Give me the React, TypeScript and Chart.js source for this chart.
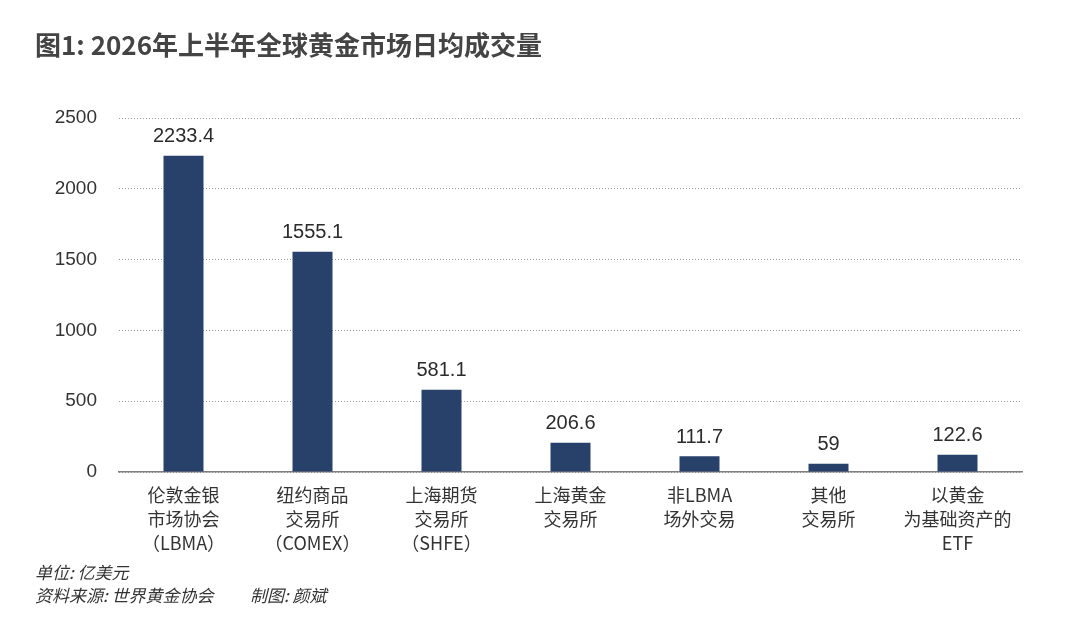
import { useRef, useEffect } from 'react'
import { Chart, registerables } from 'chart.js'
import type { Plugin } from 'chart.js'

Chart.register(...registerables)

const categories: string[][] = [
  ['伦敦金银', '市场协会', '（LBMA）'],
  ['纽约商品', '交易所', '（COMEX）'],
  ['上海期货', '交易所', '（SHFE）'],
  ['上海黄金', '交易所'],
  ['非LBMA', '场外交易'],
  ['其他', '交易所'],
  ['以黄金', '为基础资产的', 'ETF'],
]
const volumes = [2233.4, 1555.1, 581.1, 206.6, 111.7, 59, 122.6]
const yTicks = [0, 500, 1000, 1500, 2000, 2500]

const titleText = '图1: 2026年上半年全球黄金市场日均成交量'
const unitText = '单位: 亿美元'
const sourceText = '资料来源: 世界黄金协会'
const makerText = '制图: 颜斌'

const FONT = '"Noto Sans CJK SC", "Noto Sans", sans-serif'
const NUM_FONT = '"Liberation Sans", "Noto Sans CJK SC", sans-serif'

// value labels above bars + title and footer text
const labelsPlugin: Plugin<'bar'> = {
  id: 'valueLabels',
  afterDatasetsDraw(chart) {
    const ctx = chart.ctx
    const meta = chart.getDatasetMeta(0)
    ctx.save()
    ctx.fillStyle = '#2b2b2b'
    ctx.font = `20px ${NUM_FONT}`
    ctx.textAlign = 'center'
    ctx.textBaseline = 'bottom'
    meta.data.forEach((bar, i) => {
      ctx.fillText(String(volumes[i]), bar.x, bar.y - 9)
    })
    ctx.restore()
  },
  afterDraw(chart) {
    const ctx = chart.ctx
    ctx.save()
    ctx.textAlign = 'left'
    ctx.textBaseline = 'middle'
    ctx.fillStyle = '#444'
    ctx.font = `bold 26px ${FONT}`
    ctx.fillText(titleText, 35, 45)
    ctx.fillStyle = '#333'
    ctx.font = `italic 17px ${FONT}`
    ctx.fillText(unitText, 35, 573)
    ctx.fillText(sourceText, 35, 596)
    ctx.fillText(makerText, 250, 596)
    ctx.restore()
  },
}

export default function App() {
  const canvasRef = useRef<HTMLCanvasElement>(null)

  useEffect(() => {
    document.body.style.margin = '0'
    if (!canvasRef.current) return
    const chart = new Chart(canvasRef.current, {
      type: 'bar',
      data: {
        labels: categories,
        datasets: [
          {
            data: volumes,
            backgroundColor: '#27416a',
            barPercentage: 0.62,
            categoryPercentage: 0.5,
          },
        ],
      },
      options: {
        animation: false,
        responsive: false,
        layout: { padding: { left: 0, right: 58, top: 118, bottom: 0 } },
        plugins: {
          legend: { display: false },
          tooltip: { enabled: false },
        },
        scales: {
          x: {
            grid: { display: false },
            border: { display: true, color: '#808080', width: 1.5 },
            ticks: {
              color: '#333',
              font: { family: FONT, size: 18, lineHeight: 1.33 },
              padding: 3,
              maxRotation: 0,
              autoSkip: false,
            },
            afterFit(scale) {
              scale.height = 156
            },
          },
          y: {
            min: 0,
            max: 2500,
            afterBuildTicks(scale) {
              scale.ticks = yTicks.map((v) => ({ value: v }))
            },
            grid: {
              color: '#9a9a9a',
              lineWidth: 1,
              drawTicks: false,
            },
            border: { display: false, dash: [1, 2] },
            ticks: {
              color: '#333',
              font: { family: NUM_FONT, size: 19 },
              padding: 22,
              callback: (v) => String(v),
            },
            afterFit(scale) {
              scale.width = 119
            },
          },
        },
      },
      plugins: [labelsPlugin],
    })
    return () => chart.destroy()
  }, [])

  return (
    <div style={{ width: 1080, height: 628, background: '#fff' }}>
      <canvas ref={canvasRef} width={1080} height={628} />
    </div>
  )
}
